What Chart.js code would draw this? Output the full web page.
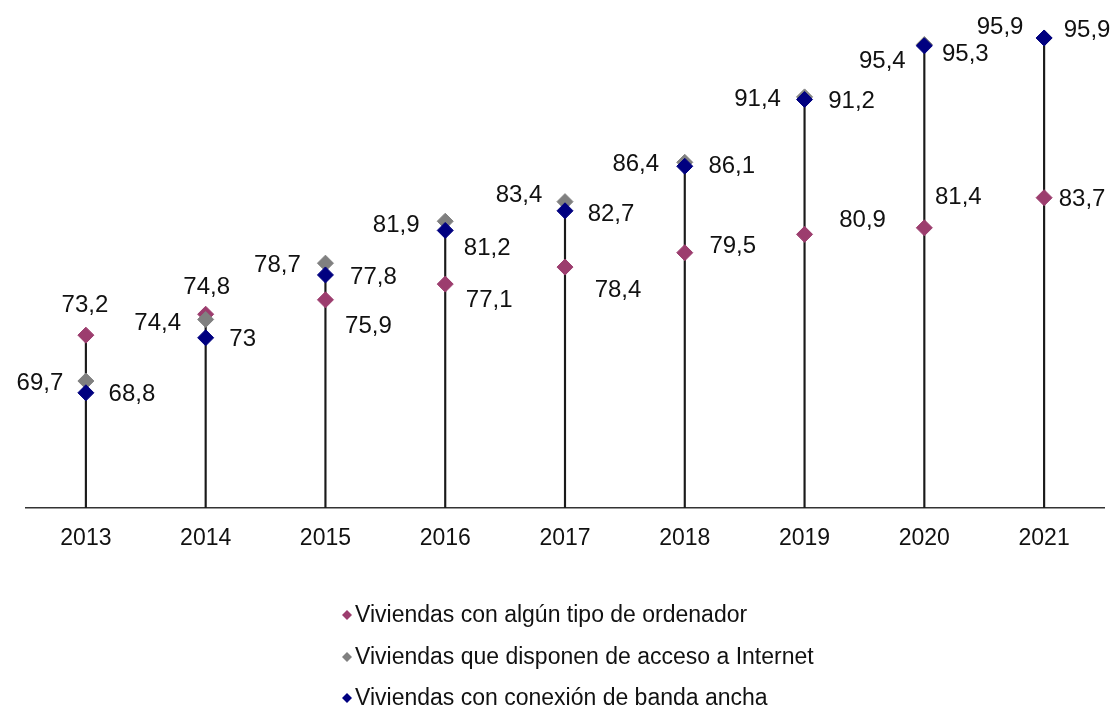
<!DOCTYPE html>
<html lang="es">
<head>
<meta charset="utf-8">
<title>Equipamiento TIC en las viviendas</title>
<script src="https://cdn.jsdelivr.net/npm/chart.js@4.4.1/dist/chart.umd.min.js"></script>
<style>
  html, body { margin: 0; padding: 0; background: #ffffff; }
  #wrap { position: relative; width: 1113px; height: 707px; }
</style>
</head>
<body>
<div id="wrap"><canvas id="chart_Viviendas"></canvas></div>
<script>
// ------------------------------------------------------------------ //
// Viviendas con ordenador, acceso a Internet y banda ancha (%)        //
// ------------------------------------------------------------------ //

const years = ["2013", "2014", "2015", "2016", "2017", "2018", "2019", "2020", "2021"];

const ordenador = [73.2, 74.8, 75.9, 77.1, 78.4, 79.5, 80.9, 81.4, 83.7];
const internet = [69.7, 74.4, 78.7, 81.9, 83.4, 86.4, 91.4, 95.4, 95.9];
const bandaAncha = [68.8, 73, 77.8, 81.2, 82.7, 86.1, 91.2, 95.3, 95.9];

const seriesNames = [
    "Viviendas con algún tipo de ordenador",
    "Viviendas que disponen de acceso a Internet",
    "Viviendas con conexión de banda ancha",
];

// top of each stem = highest value of the year
const stemTops = years.map((_, i) => Math.max(ordenador[i], internet[i], bandaAncha[i]));

// where each value label sits, relative to its marker [dx, dy]
const labelOffsets = [
    [[-1, -32], [1, -29], [43, 25], [44, 14], [53, 21], [48, -8], [58, -16], [34, -32], [38, 0]],
    [[-46, 0], [-48, 2], [-48, 0], [-49, 2], [-46, -8], [-49, 0], [-47, 0], [-42, 15], [-44, -13]],
    [[46, 0], [37, 0], [48, 0], [42, 16], [46, 2], [47, -2], [47, 0], [41, 7], [43, -10]],
];

const FONT = "'Liberation Sans', Arial, sans-serif";

const fmt = (v) => String(v).replace(".", ",");

// value labels next to the diamonds
const valueLabels = {
    id: "valueLabels",
    afterDatasetsDraw(chart) {
        const ctx = chart.ctx;
        ctx.save();
        ctx.font = "24px " + FONT;
        ctx.fillStyle = "#111111";
        ctx.textAlign = "center";
        ctx.textBaseline = "middle";
        chart.data.datasets.forEach((ds, d) => {
            if (ds.type !== "line") return;
            chart.getDatasetMeta(d).data.forEach((pt, i) => {
                const off = labelOffsets[d][i];
                // +2: digits have no descenders, so nudge down to centre them
                ctx.fillText(fmt(ds.data[i]), pt.x + off[0], pt.y + off[1] + 2);
            });
        });
        ctx.restore();
    },
};

// legend stacked one entry per row under the axis
const stackedLegend = {
    id: "stackedLegend",
    afterDraw(chart) {
        const ctx = chart.ctx;
        const rows = [615, 657, 698];
        ctx.save();
        ctx.font = "23px " + FONT;
        ctx.textBaseline = "middle";
        ctx.textAlign = "left";
        chart.data.datasets.forEach((ds, d) => {
            if (ds.type !== "line") return;
            const y = rows[d];
            ctx.fillStyle = ds.backgroundColor;
            ctx.beginPath();
            ctx.moveTo(347, y - 5);
            ctx.lineTo(352, y);
            ctx.lineTo(347, y + 5);
            ctx.lineTo(342, y);
            ctx.closePath();
            ctx.fill();
            ctx.fillStyle = "#111111";
            ctx.fillText(ds.label, 355, y + 1);
        });
        ctx.restore();
    },
};

// lower order is painted on top: navy over grey over magenta
const diamond = (label, data, color, order) => ({
    type: "line",
    label: label,
    data: data,
    showLine: false,
    pointStyle: "rectRot",
    pointRadius: 8,
    pointHoverRadius: 8,
    pointBorderWidth: 1,
    backgroundColor: color,
    borderColor: color,
    order: order,
});

const ctx = document.getElementById("chart_Viviendas").getContext("2d");
const chart_Viviendas = new Chart(ctx, {
    type: "bar",
    data: {
        labels: years,
        datasets: [
            diamond(seriesNames[0], ordenador, "#9c3d6e", 3),
            diamond(seriesNames[1], internet, "#808080", 2),
            diamond(seriesNames[2], bandaAncha, "#000080", 1),
            {
                type: "bar", // vertical stems
                label: "stems",
                data: stemTops,
                backgroundColor: "#1a1a1a",
                barThickness: 1.5,
                order: 10,
            },
        ],
    },
    options: {
        responsive: true,
        maintainAspectRatio: false,
        animation: false,
        events: [],
        layout: {
            autoPadding: false,
            padding: { left: 26, right: 9, top: 0, bottom: 0 },
        },
        plugins: {
            legend: { display: false },
            tooltip: { enabled: false },
        },
        scales: {
            x: {
                type: "category",
                offset: true,
                grid: { display: false, drawTicks: false },
                border: { display: true, color: "#333333", width: 1.5 },
                ticks: {
                    color: "#111111",
                    padding: 17,
                    font: { family: FONT, size: 23 },
                },
                afterFit(scale) {
                    scale.height = 199;
                },
            },
            y: {
                display: false,
                min: 60,
                max: 98.8,
            },
        },
    },
    plugins: [valueLabels, stackedLegend],
});
</script>
</body>
</html>
